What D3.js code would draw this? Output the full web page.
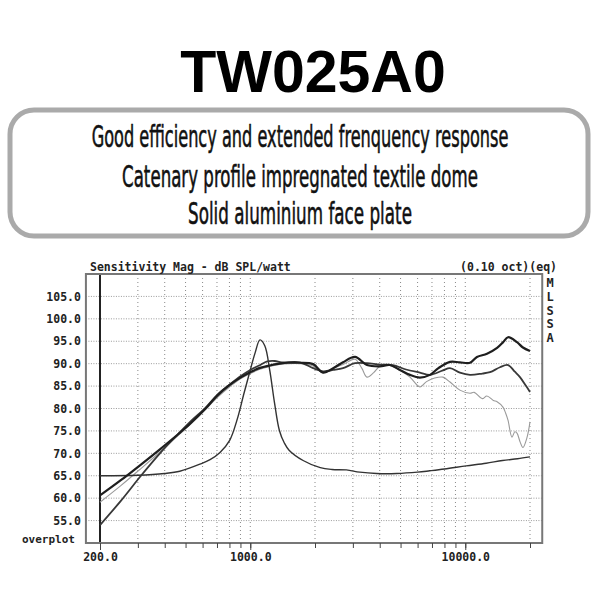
<!DOCTYPE html>
<html><head><meta charset="utf-8">
<script src="https://cdn.jsdelivr.net/npm/d3@7"></script>
<style>body{margin:0;background:#fff}svg{display:block}</style>
</head><body>
<svg id="c" width="600" height="600"></svg>
<script>
// ---------- DATA ----------
const titleText = "TW025A0";
const featureLines = [
  "Good efficiency and extended frenquency response",
  "Catenary profile impregnated textile dome",
  "Solid aluminium face plate"
];
const chartTitle = "Sensitivity Mag - dB SPL/watt";
const chartNote = "(0.10 oct)(eq)";
const legendLetters = ["M","L","S","S","A"];
const yTicks = [55,60,65,70,75,80,85,90,95,100,105];
const xLabelTicks = [200,1000,10000];
const xGrid = [300,400,500,600,700,800,900,1000,2000,3000,4000,5000,6000,7000,8000,9000,10000,20000];

// impedance-like resonance curve
const freqImp = [200,300,400,470,584,650,723,802,867,935,1000,1053,1109,1168,1231,1297,1366,1440,1515,1761,2116,2400,2800,3230,3870,4800,6000,6830,8000,10100,12500,14900,17500,20000];
const dbImp   = [65.0,65.1,65.5,66.0,67.6,68.6,70.2,72.9,77.4,83.4,88.6,92.4,95.3,94.0,88.6,81.2,75.1,72.3,70.7,68.4,66.8,66.4,66.3,65.8,65.5,65.5,65.8,66.1,66.5,67.2,67.8,68.4,68.8,69.2];

// response P (dark, rises at HF)
const freqP = [200,250,310,380,460,525,620,700,800,900,1000,1100,1230,1370,1500,1700,1960,2180,2430,2700,3070,3490,4010,4460,4970,5530,6150,6850,7500,8490,9440,10520,11330,12620,14060,15000,15800,17400,18540,20000];
const dbP   = [60.6,64.0,67.5,70.9,74.2,76.6,80.0,82.8,85.2,86.9,88.1,89.0,89.6,90.0,90.2,90.2,89.9,88.0,89.0,90.3,91.5,89.7,89.4,89.7,88.6,87.5,86.9,87.5,89.0,90.4,90.3,90.2,91.5,92.2,93.5,94.8,95.9,94.8,93.6,92.8];

// response Q (dark, steep start, falls at the top end)
const freqQ = [200,250,310,380,460,525,620,700,800,900,1000,1100,1200,1300,1400,1700,1960,2180,2430,2700,3070,3490,4010,4600,5300,6150,6850,7870,8490,9440,10520,12000,13030,14500,15800,17000,17960,19000,20000];
const dbQ   = [54.0,59.4,65.0,70.0,74.2,77.0,80.2,83.0,85.3,87.2,88.6,89.6,90.5,90.6,90.3,90.3,89.0,88.3,88.6,89.0,90.1,90.1,89.8,89.7,88.7,88.0,87.5,88.5,89.0,88.0,87.5,87.8,88.1,89.2,89.7,88.2,87.0,85.3,83.7];

// response R (light grey, off-axis)
const freqR = [200,250,310,380,460,525,620,700,800,900,1000,1100,1230,1370,1500,1700,1960,2180,2430,2700,3070,3300,3490,3750,4010,4460,4970,5530,6150,6600,7200,7870,8490,9440,10520,11000,12000,12600,13500,14060,14970,15400,15800,16490,17000,17400,18000,18540,19360,20000];
const dbR   = [59.1,62.8,66.6,70.3,73.9,76.4,79.8,82.4,84.8,86.6,87.8,88.7,89.4,89.8,90.0,90.0,89.5,88.0,89.0,89.8,91.0,89.0,87.0,88.0,89.4,89.6,88.5,87.0,84.8,86.0,86.8,87.0,85.9,84.1,83.4,83.6,82.2,82.8,81.8,81.5,80.3,79.0,77.4,73.6,74.8,74.5,72.5,71.3,73.5,77.0];

// ---------- DRAW ----------
const svg = d3.select("#c");
const x = d3.scaleLog().domain([200,20000]).range([100,530]);
const y = d3.scaleLinear().domain([50,110]).range([543,274]);
const xL = x(172), xR = x(22800), yT = y(110), yB = y(50);

// title
svg.append("text").attr("x",313).attr("y",92).attr("text-anchor","middle")
  .attr("font-family","Liberation Sans, Arial, sans-serif").attr("font-weight","bold")
  .attr("font-size",59).attr("fill","#000").text(titleText);

// feature box
svg.append("rect").attr("x",10).attr("y",110).attr("width",578).attr("height",126)
  .attr("rx",24).attr("ry",24).attr("fill","none").attr("stroke","#aaa").attr("stroke-width",5);
const lineBase = [147,187,224];
const lineWidths = [417,356,224];
featureLines.forEach((t,i)=>{
  const gg = svg.append("g");
  const tx = gg.append("text").attr("x",0).attr("y",0).attr("text-anchor","middle")
    .attr("font-family","DejaVu Sans, sans-serif")
    .attr("font-size",30).attr("fill","#111").attr("stroke","#111").attr("stroke-width",0.6)
    .text(t);
  const w = tx.node().getComputedTextLength();
  gg.attr("transform",`translate(300,${lineBase[i]}) scale(${lineWidths[i]/w},1)`);
});

const mono = "DejaVu Sans Mono, Liberation Mono, monospace";

// grid
const g = svg.append("g");
g.selectAll("line.h").data(yTicks).join("line")
  .attr("x1",xL).attr("x2",xR).attr("y1",d=>y(d)).attr("y2",d=>y(d))
  .attr("stroke","#999").attr("stroke-width",1).attr("stroke-dasharray","1,1.5");
g.selectAll("line.v").data(xGrid).join("line")
  .attr("x1",d=>x(d)).attr("x2",d=>x(d)).attr("y1",yT).attr("y2",yB)
  .attr("stroke","#888").attr("stroke-width",1).attr("stroke-dasharray","1,3");
// 200 Hz solid line
g.append("line").attr("x1",x(200)).attr("x2",x(200)).attr("y1",yT).attr("y2",yB)
  .attr("stroke","#222").attr("stroke-width",2);

// frame
svg.append("rect").attr("x",xL).attr("y",yT).attr("width",xR-xL).attr("height",yB-yT)
  .attr("fill","none").attr("stroke","#777").attr("stroke-width",2);

// axes
const minorAx = svg.append("g").attr("transform",`translate(0,${yB})`)
  .call(d3.axisBottom(x).tickValues(xGrid.concat([200])).tickSize(5).tickFormat(""));
minorAx.select(".domain").remove();
minorAx.selectAll("line").attr("stroke","#444");
const majorAx = svg.append("g").attr("transform",`translate(0,${yB})`)
  .call(d3.axisBottom(x).tickValues(xLabelTicks).tickSize(7).tickPadding(3).tickFormat(d3.format(".1f")));
majorAx.select(".domain").remove();
majorAx.selectAll("line").attr("stroke","#444");
majorAx.selectAll("text").attr("font-family",mono).attr("font-weight","bold").attr("font-size",11.5).attr("fill","#222");

const yAx = svg.append("g").attr("transform",`translate(${xL},0)`)
  .call(d3.axisLeft(y).tickValues(yTicks).tickSize(0).tickPadding(5).tickFormat(d3.format(".1f")));
yAx.select(".domain").remove();
yAx.selectAll("text").attr("font-family",mono).attr("font-weight","bold").attr("font-size",11.5).attr("fill","#222");

svg.append("text").attr("x",22).attr("y",543).attr("font-family",mono).attr("font-weight","bold")
  .attr("font-size",11).attr("fill","#222").text("overplot");
svg.append("text").attr("x",90).attr("y",271).attr("font-family",mono).attr("font-weight","bold")
  .attr("font-size",11.5).attr("fill","#222").text(chartTitle);
svg.append("text").attr("x",557).attr("y",271).attr("text-anchor","end").attr("font-family",mono).attr("font-weight","bold")
  .attr("font-size",11.5).attr("fill","#222").text(chartNote);
legendLetters.forEach((l,i)=>{
  svg.append("text").attr("x",550).attr("y",287+i*13.8).attr("text-anchor","middle")
    .attr("font-family",mono).attr("font-weight","bold").attr("font-size",12).attr("fill","#222").text(l);
});

// curves
const line = d3.line().x(d=>x(d[0])).y(d=>y(d[1])).curve(d3.curveCatmullRom.alpha(0.5));
const zip = (f,v)=>f.map((d,i)=>[d,v[i]]);
const series = [
  {d:zip(freqR,dbR), c:"#9a9a9a", w:1.1},
  {d:zip(freqImp,dbImp), c:"#333", w:1.4},
  {d:zip(freqQ,dbQ), c:"#383838", w:1.8},
  {d:zip(freqP,dbP), c:"#1e1e1e", w:2.2}
];
series.forEach(s=>{
  svg.append("path").attr("d",line(s.d)).attr("fill","none").attr("stroke",s.c)
    .attr("stroke-width",s.w).attr("stroke-linejoin","round");
});
</script>
</body></html>
